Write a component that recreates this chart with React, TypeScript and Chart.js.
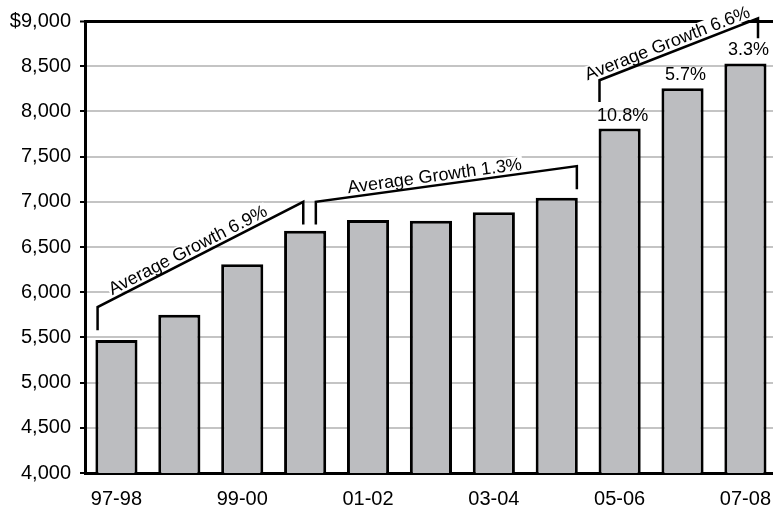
import React, { useEffect, useRef } from "react";
import { Chart, registerables } from "chart.js";

Chart.register(...registerables);

// Fiscal years and spending per year (dollars)
const years = ["97-98", "98-99", "99-00", "00-01", "01-02", "02-03", "03-04", "04-05", "05-06", "06-07", "07-08"];
const spending = [5470, 5750, 6310, 6680, 6800, 6790, 6885, 7045, 7810, 8255, 8530];

// Y axis range and step
const yMin = 4000;
const yMax = 9000;
const yStep = 500;

// Year-over-year growth labels above the last bars
const growthIndex = [8, 9, 10];
const growthText = ["10.8%", "5.7%", "3.3%"];

// Average-growth brackets: x in category units, y in dollars
const bracketText = ["Average Growth 6.9%", "Average Growth 1.3%", "Average Growth 6.6%"];
const bracketStartX = [-0.3, 3.17, 7.68];
const bracketEndX = [2.97, 7.32, 10.2];
const bracketStartLow = [5580, 6750, 8105];
const bracketStartHigh = [5835, 7000, 8345];
const bracketEndHigh = [7000, 7395, 9030];
const bracketEndLow = [6750, 7140, 8810];
const captionAt = [0.46, 0.46, 0.45];

const FONT = "'Liberation Sans', Arial, Helvetica, sans-serif";

const annotations = {
  id: "annotations",
  afterDraw(chart: any) {
    const { ctx, scales } = chart;
    const x = scales.x;
    const y = scales.y;
    ctx.save();

    // growth labels above bars
    ctx.fillStyle = "#000";
    ctx.font = `18px ${FONT}`;
    ctx.textAlign = "center";
    ctx.textBaseline = "alphabetic";
    growthIndex.forEach((idx, i) => {
      const px = x.getPixelForValue(idx) + 3;
      const py = y.getPixelForValue(spending[idx]) - 8;
      ctx.fillText(growthText[i], px, py);
    });

    // brackets with slanted captions
    bracketText.forEach((label, i) => {
      const x0 = x.getPixelForValue(bracketStartX[i]);
      const x1 = x.getPixelForValue(bracketEndX[i]);
      const yLow0 = y.getPixelForValue(bracketStartLow[i]);
      const yHigh0 = y.getPixelForValue(bracketStartHigh[i]);
      const yHigh1 = y.getPixelForValue(bracketEndHigh[i]);
      const yLow1 = y.getPixelForValue(bracketEndLow[i]);

      const angle = Math.atan2(yHigh1 - yHigh0, x1 - x0);
      const t = captionAt[i];
      const cx = x0 + (x1 - x0) * t;
      const cy = yHigh0 + (yHigh1 - yHigh0) * t;
      const off = 4;
      const tx = cx + Math.sin(angle) * off;
      const ty = cy - Math.cos(angle) * off;

      ctx.font = `18px ${FONT}`;
      const w = ctx.measureText(label).width;

      // white knockout behind the caption
      ctx.save();
      ctx.translate(tx, ty);
      ctx.rotate(angle);
      ctx.fillStyle = "#fff";
      ctx.fillRect(-w / 2 - 1, -14, w + 2, 16);
      ctx.restore();

      ctx.strokeStyle = "#000";
      ctx.lineWidth = 2.5;
      ctx.lineJoin = "miter";
      ctx.beginPath();
      ctx.moveTo(x0, yLow0);
      ctx.lineTo(x0, yHigh0);
      ctx.lineTo(x1, yHigh1);
      ctx.lineTo(x1, yLow1);
      ctx.stroke();

      ctx.save();
      ctx.translate(tx, ty);
      ctx.rotate(angle);
      ctx.fillStyle = "#000";
      ctx.textAlign = "center";
      ctx.textBaseline = "alphabetic";
      ctx.fillText(label, 0, 0);
      ctx.restore();
    });

    ctx.restore();
  },
};

export default function App() {
  const canvasRef = useRef<HTMLCanvasElement | null>(null);

  useEffect(() => {
    document.body.style.margin = "0";
    const canvas = canvasRef.current;
    if (!canvas) return;
    const chart = new Chart(canvas, {
      type: "bar",
      data: {
        labels: years,
        datasets: [
          {
            data: spending,
            backgroundColor: "#bcbdc0",
            borderColor: "#000",
            borderWidth: 3,
            barPercentage: 0.67,
            categoryPercentage: 1,
          },
        ],
      },
      options: {
        animation: false,
        responsive: false,
        devicePixelRatio: 1,
        layout: { padding: { top: 21, right: 0, left: 0, bottom: 0 } },
        plugins: {
          legend: { display: false },
          tooltip: { enabled: false },
        },
        scales: {
          x: {
            grid: { display: false, drawTicks: false },
            border: { display: true, color: "#000", width: 3 },
            ticks: {
              autoSkip: false,
              maxRotation: 0,
              padding: 14,
              color: "#000",
              font: { family: FONT, size: 20 },
              callback: (_v: any, i: number) => (i % 2 === 0 ? years[i] : ""),
            },
            afterFit: (scale: any) => {
              scale.height = 38;
            },
          },
          y: {
            min: yMin,
            max: yMax,
            grid: {
              color: (c: any) => (c.tick && c.tick.value === yMax ? "#000" : "#c4c4c4"),
              lineWidth: (c: any) => (c.tick && c.tick.value === yMax ? 3 : 2),
              tickColor: "#000",
              tickLength: 5,
              tickWidth: 2,
            },
            border: { display: true, color: "#000", width: 3 },
            ticks: {
              stepSize: yStep,
              padding: 9,
              color: "#000",
              font: { family: FONT, size: 20 },
              callback: (v: any) =>
                (v === yMax ? "$" : "") + Number(v).toLocaleString("en-US"),
            },
            afterFit: (scale: any) => {
              scale.width = 85;
            },
          },
        },
      },
      plugins: [annotations],
    });
    return () => chart.destroy();
  }, []);

  return (
    <div style={{ width: 773, height: 511, overflow: "hidden", background: "#fff" }}>
      <canvas ref={canvasRef} width={785} height={511} style={{ display: "block" }} />
    </div>
  );
}
